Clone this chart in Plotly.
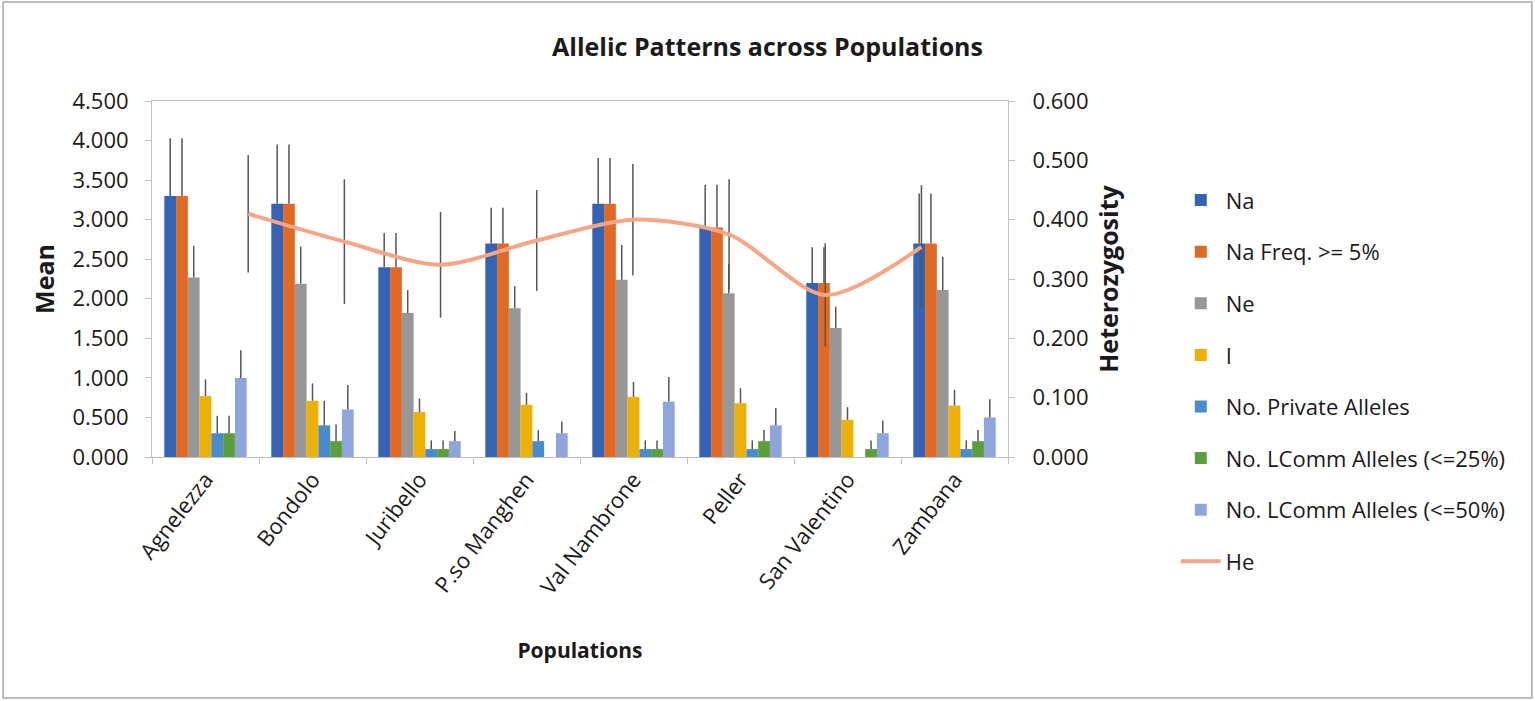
import plotly.graph_objects as go

# populations (x categories)
pops = ["Agnelezza", "Bondolo", "Juribello", "P.so Manghen",
        "Val Nambrone", "Peller", "San Valentino", "Zambana"]

# bar series (left axis, Mean) and their SE
na = [3.30, 3.20, 2.40, 2.70, 3.20, 2.90, 2.20, 2.70]
na_se = [0.73, 0.75, 0.43, 0.45, 0.58, 0.54, 0.45, 0.63]
na_freq = [3.30, 3.20, 2.40, 2.70, 3.20, 2.90, 2.20, 2.70]
na_freq_se = [0.73, 0.75, 0.43, 0.45, 0.58, 0.54, 0.45, 0.63]
ne = [2.27, 2.19, 1.82, 1.88, 2.24, 2.07, 1.63, 2.11]
ne_se = [0.40, 0.47, 0.29, 0.28, 0.44, 0.37, 0.27, 0.42]
i_shannon = [0.77, 0.71, 0.57, 0.66, 0.76, 0.68, 0.47, 0.65]
i_se = [0.21, 0.22, 0.17, 0.15, 0.19, 0.19, 0.16, 0.20]
private = [0.30, 0.40, 0.10, 0.20, 0.10, 0.10, 0.00, 0.10]
private_se = [0.22, 0.31, 0.11, 0.14, 0.11, 0.11, 0.00, 0.11]
lcomm25 = [0.30, 0.20, 0.10, 0.00, 0.10, 0.20, 0.10, 0.20]
lcomm25_se = [0.22, 0.21, 0.11, 0.00, 0.11, 0.14, 0.11, 0.14]
lcomm50 = [1.00, 0.60, 0.20, 0.30, 0.70, 0.40, 0.30, 0.50]
lcomm50_se = [0.35, 0.31, 0.13, 0.15, 0.31, 0.22, 0.16, 0.23]

# expected heterozygosity (right axis)
he = [0.410, 0.363, 0.324, 0.365, 0.400, 0.375, 0.273, 0.354]
he_se = [0.099, 0.105, 0.089, 0.085, 0.094, 0.093, 0.087, 0.104]

series = [
    ("Na", na, na_se, "#3462B5"),
    ("Na Freq. >= 5%", na_freq, na_freq_se, "#E06A24"),
    ("Ne", ne, ne_se, "#979797"),
    ("I", i_shannon, i_se, "#EDB005"),
    ("No. Private Alleles", private, private_se, "#4A8BCB"),
    ("No. LComm Alleles (<=25%)", lcomm25, lcomm25_se, "#5B9E3A"),
    ("No. LComm Alleles (<=50%)", lcomm50, lcomm50_se, "#8EA5DB"),
]

fig = go.Figure()
for name, vals, se, col in series:
    fig.add_trace(go.Bar(
        x=pops, y=vals, name=name, legendgroup=name,
        marker=dict(color=col, line=dict(width=0)),
        error_y=dict(type="data", array=se, symmetric=False,
                     arrayminus=[0] * len(se), width=0,
                     thickness=1.5, color="#555555"),
    ))

fig.add_trace(go.Scatter(
    x=pops, y=he, name="He", legendgroup="He",
    xaxis="x2", yaxis="y2", mode="lines",
    line=dict(color="#F6A686", width=4, shape="spline", smoothing=0.8),
    error_y=dict(type="data", array=he_se, width=0,
                 thickness=1.5, color="#555555"),
))

txt = "#1a1a1a"
fnt = "Open Sans"
axcol = "#BFBFBF"

fig.update_layout(
    width=1535, height=701,
    margin=dict(l=152, r=527, t=101, b=244),
    paper_bgcolor="white", plot_bgcolor="white",
    font=dict(family=fnt, color=txt, size=22),
    title=dict(text="<b>Allelic Patterns across Populations</b>",
               x=0.5, xref="container", xanchor="center",
               y=0.933, yref="container", yanchor="middle",
               font=dict(size=25, family=fnt, color=txt)),
    barmode="group", bargap=0.23, bargroupgap=0,
    showlegend=True,
    legend=dict(x=1.196, xanchor="left", y=0.78, yanchor="top",
                traceorder="grouped", tracegroupgap=20, maxheight=650,
                font=dict(size=22, family=fnt, color=txt),
                itemwidth=40),
    xaxis=dict(type="category", tickson="boundaries", ticks="outside",
               ticklen=6, tickcolor=axcol, tickangle=-52,
               showline=True, linecolor=axcol, linewidth=1, mirror=True,
               showgrid=False, tickfont=dict(size=22),
               title=dict(text="<b>Populations</b>", standoff=44,
                          font=dict(size=21))),
    xaxis2=dict(type="category", overlaying="x", visible=False,
                range=[-1, 7.9]),
    yaxis=dict(range=[0, 4.5], dtick=0.5, tickformat=".3f",
               ticks="outside", ticklen=6, tickcolor=axcol,
               ticklabelstandoff=12,
               showline=True, linecolor=axcol, showgrid=False,
               zeroline=False, tickfont=dict(size=22),
               title=dict(text="<b>Mean</b>", standoff=10,
                          font=dict(size=25))),
    yaxis2=dict(range=[0, 0.6], dtick=0.1, tickformat=".3f",
                overlaying="y", side="right",
                ticks="outside", ticklen=6, tickcolor=axcol,
                ticklabelstandoff=13,
                showline=True, linecolor=axcol, showgrid=False,
                zeroline=False, tickfont=dict(size=22),
                title=dict(text="<b>Heterozygosity</b>", standoff=12,
                           font=dict(size=25))),
    shapes=[dict(type="rect", xref="paper", yref="paper",
                 x0=-0.174, x1=1.612, y0=-0.677, y1=1.278,
                 line=dict(color="#A6A6A6", width=1.5),
                 fillcolor="rgba(0,0,0,0)", layer="below")],
)

fig.write_html("out.html", config={"displayModeBar": False},
               post_script="document.body.style.margin='0';")
